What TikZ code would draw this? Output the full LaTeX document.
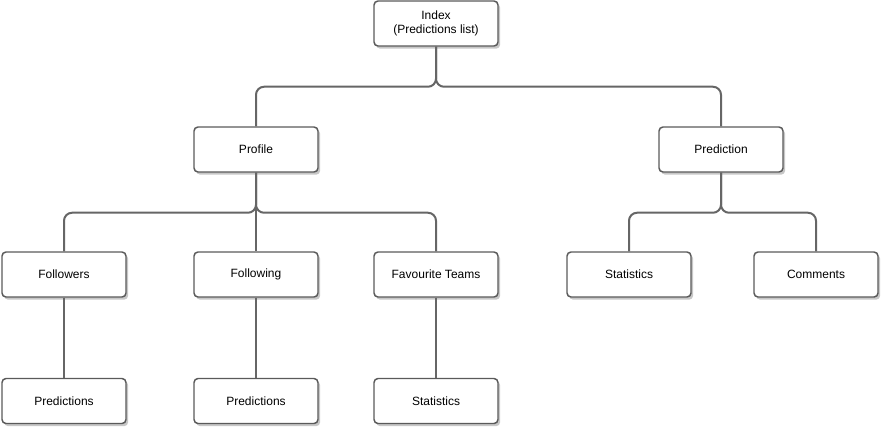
\documentclass[tikz,border=0pt]{standalone}
\usepackage{fontspec}
\setmainfont{Liberation Sans}
\usepackage{tikz}
\usetikzlibrary{
  positioning,
  shadows
}

\definecolor{boxline}{HTML}{5A5A5A}
\definecolor{linkline}{HTML}{666666}

\begin{document}
\begin{tikzpicture}[
  x=0.75pt, y=-0.75pt,
  font=\fontsize{9}{11}\selectfont,
  page/.style={
    draw=boxline,
    fill=white,
    line width=1.1pt,
    rounded corners=3pt,
    minimum width=93pt,
    minimum height=33.75pt,
    align=center,
    inner sep=2pt,
    drop shadow={shadow xshift=1.6pt, shadow yshift=-2pt, fill=black, opacity=0.22}
  },
  link/.style={
    draw=linkline,
    line width=1.5pt,
    rounded corners=6pt
  }
]

\useasboundingbox (0,0) rectangle (884,430);

% Top level
\node[page] (index) at (436,23.5) {Index\\(Predictions list)};

% Second level
\node[page] (profile) at (256,149.5) {Profile};
\node[page] (prediction) at (721,149.5) {Prediction};

% Third level
\node[page] (followers) at (64,274.5) {Followers};
\node[page] (following) at (256,274.5) {Following};
\node[page] (teams) at (436,274.5) {Favourite Teams};
\node[page] (predstats) at (629,274.5) {Statistics};
\node[page] (comments) at (816,274.5) {Comments};

% Fourth level
\node[page] (followerspred) at (64,401) {Predictions};
\node[page] (followingpred) at (256,401) {Predictions};
\node[page] (teamstats) at (436,401) {Statistics};

% Links
\foreach \parent/\child in {index/profile, index/prediction,
    profile/followers, profile/following, profile/teams,
    prediction/predstats, prediction/comments} {
  \draw[link] (\parent.south) -- ++(0,40) -| (\child.north);
}
\draw[link] (followers.south) -- (followerspred.north);
\draw[link] (following.south) -- (followingpred.north);
\draw[link] (teams.south) -- (teamstats.north);

\end{tikzpicture}
\end{document}
